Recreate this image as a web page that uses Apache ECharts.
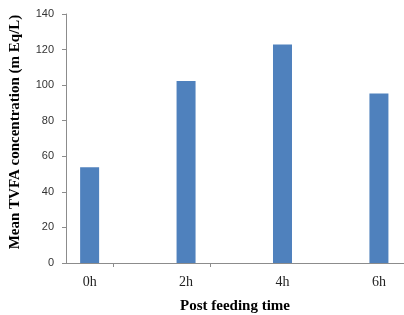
<!DOCTYPE html>
<html>
<head>
<meta charset="utf-8">
<script src="https://cdn.jsdelivr.net/npm/echarts@6/dist/echarts.min.js"></script>
<style>
  html, body { margin: 0; padding: 0; background: #fff; }
  #chart { width: 404px; height: 315px; }
</style>
</head>
<body>
<div id="chart"></div>
<script>
// values
const times = ["0h", "2h", "4h", "6h"];
const tvfa = [53.8, 102.3, 122.9, 95.3];

const chart = echarts.init(document.getElementById("chart"));

chart.setOption({
  animation: false,
  grid: { left: 66, right: 0, top: 14, bottom: 52, containLabel: false, outerBoundsMode: "none" },
  xAxis: {
    type: "value",
    min: -0.245,
    max: 3.26,
    name: "Post feeding time",
    nameLocation: "middle",
    nameGap: 36,
    nameTextStyle: { fontFamily: "Liberation Serif", fontWeight: "bold", fontSize: 15, color: "#000" },
    axisLine: { onZero: false, lineStyle: { color: "#8c8c8c" } },
    axisTick: { show: true, customValues: [0.25, 1.25], length: 4, lineStyle: { color: "#8c8c8c" } },
    axisLabel: {
      customValues: [0, 1, 2, 3],
      formatter: (v) => times[Math.round(v)],
      fontFamily: "Liberation Serif",
      fontSize: 14,
      color: "#222",
      margin: 12
    },
    splitLine: { show: false }
  },
  yAxis: {
    type: "value",
    min: 0,
    max: 140,
    interval: 20,
    name: "Mean TVFA concentration (m Eq/L)",
    nameLocation: "middle",
    nameGap: 43,
    nameTextStyle: { fontFamily: "Liberation Serif", fontWeight: "bold", fontSize: 15, color: "#000", padding: [0, 0, 0, 13] },
    axisLine: { show: true, onZero: false, lineStyle: { color: "#8c8c8c" } },
    axisTick: { show: true, length: 4, lineStyle: { color: "#8c8c8c" } },
    axisLabel: {
      fontFamily: "Liberation Sans",
      fontSize: 11,
      color: "#333",
      margin: 12
    },
    splitLine: { show: false }
  },
  series: [
    {
      type: "bar",
      barWidth: 19,
      itemStyle: { color: "#4f81bd" },
      data: tvfa.map((v, i) => [i, v])
    }
  ]
});
</script>
</body>
</html>
